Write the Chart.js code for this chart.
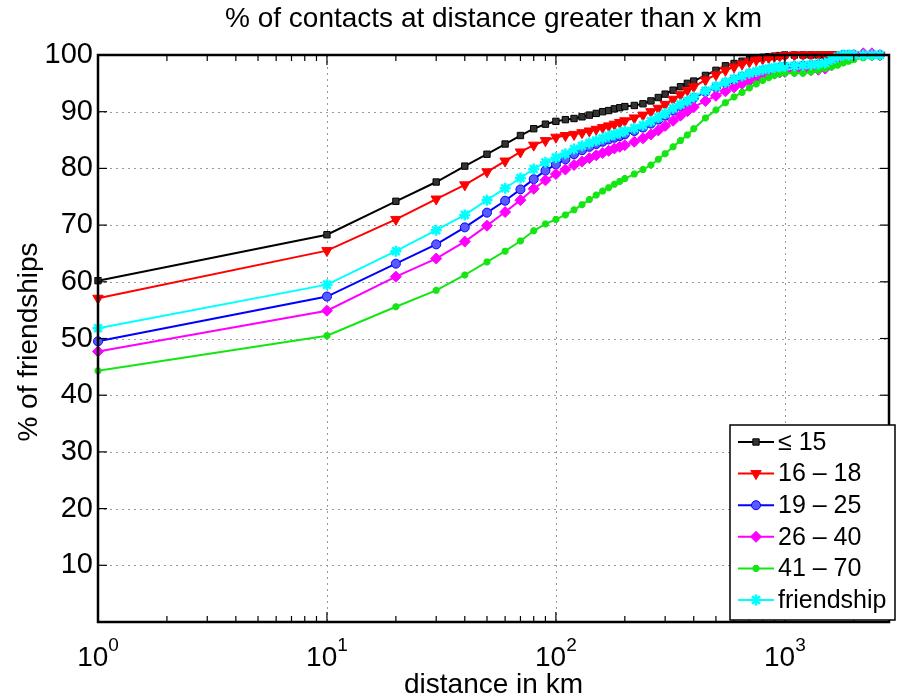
<!DOCTYPE html>
<html>
<head>
<meta charset="utf-8">
<script src="https://cdn.jsdelivr.net/npm/chart.js@4/dist/chart.umd.min.js"></script>
<style>
  html, body { margin: 0; padding: 0; background: #fff; }
  #wrap { width: 897px; height: 695px; }
</style>
</head>
<body>
<div id="wrap"><canvas id="myChart" width="897" height="695"></canvas></div>
<script>
// distance in km (shared by every series)
const distances = [1, 10, 20, 30, 40, 50, 60, 70, 80, 90,
  100, 110, 120, 130, 140, 150, 160, 170, 180, 190,
  200, 220, 240, 260, 280, 300, 325, 350, 375, 400,
  450, 500, 550, 600, 650, 700, 750, 800, 850, 900,
  950, 1000, 1100, 1200, 1300, 1400, 1500, 1600, 1700, 1800,
  1900, 2000, 2200, 2400, 2600];

// % of friendships at distance greater than x, per age group
const age15 = [60.2, 68.3, 74.2, 77.6, 80.4, 82.5, 84.3, 85.8, 87.0, 87.8,
  88.3, 88.6, 88.8, 89.1, 89.4, 89.7, 90.0, 90.2, 90.5, 90.7,
  90.9, 91.1, 91.4, 91.9, 92.5, 93.1, 93.8, 94.4, 95.0, 95.4,
  96.4, 97.3, 98.1, 98.5, 98.9, 99.2, 99.4, 99.6, 99.7, 99.8,
  99.9, 100, 100, 100, 100, 100, 100, 100, 100, 100,
  100, 100, 100, 100, 100];
const age16to18 = [57.1, 65.5, 71.0, 74.6, 77.1, 79.4, 81.3, 82.9, 84.1, 84.9,
  85.5, 85.8, 86.0, 86.3, 86.6, 86.9, 87.2, 87.5, 87.8, 88.1,
  88.4, 88.9, 89.4, 90.0, 90.6, 91.3, 92.2, 93.0, 93.8, 94.4,
  95.6, 96.5, 97.3, 97.9, 98.4, 98.8, 99.1, 99.3, 99.5, 99.7,
  99.8, 99.9, 100, 100, 100, 100, 100, 100, 100, 100,
  100, 100, 100, 100, 100];
const age19to25 = [49.5, 57.4, 63.2, 66.6, 69.6, 72.2, 74.3, 76.3, 78.1, 79.6,
  80.7, 81.6, 82.5, 83.2, 83.8, 84.3, 84.7, 85.1, 85.4, 85.7,
  86.0, 86.6, 87.2, 87.9, 88.6, 89.3, 90.2, 91.0, 91.7, 92.4,
  93.5, 94.3, 95.0, 95.6, 96.1, 96.6, 96.9, 97.2, 97.4, 97.6,
  97.8, 97.9, 98.0, 98.1, 98.2, 98.3, 98.5, 99.0, 99.6, 100,
  100, 100, 100, 100, 100];
const age26to40 = [47.7, 54.9, 60.9, 64.1, 67.1, 69.9, 72.3, 74.4, 76.4, 77.9,
  79.0, 79.8, 80.6, 81.2, 81.8, 82.3, 82.7, 83.1, 83.5, 83.8,
  84.1, 84.7, 85.3, 86.0, 86.7, 87.5, 88.4, 89.3, 90.1, 90.8,
  91.9, 92.8, 93.6, 94.3, 94.9, 95.4, 95.8, 96.1, 96.4, 96.7,
  96.9, 97.0, 97.1, 97.2, 97.3, 97.4, 97.6, 98.2, 98.9, 99.5,
  99.8, 100, 100.3, 100.3, 100];
const age41to70 = [44.3, 50.5, 55.6, 58.5, 61.2, 63.5, 65.4, 67.2, 69.0, 70.2,
  71.0, 71.8, 72.7, 73.6, 74.5, 75.3, 76.0, 76.6, 77.2, 77.7,
  78.2, 79.0, 79.8, 80.6, 81.6, 82.6, 83.8, 84.9, 85.9, 87.0,
  88.9, 90.3, 91.6, 92.6, 93.4, 94.2, 94.9, 95.5, 96.0, 96.4,
  96.7, 96.8, 96.8, 96.8, 97.0, 97.3, 97.6, 97.9, 98.2, 98.6,
  98.9, 99.2, 99.5, 99.7, 99.9];
const friendship = [51.8, 59.5, 65.4, 69.1, 71.8, 74.4, 76.5, 78.3, 79.9, 81.1,
  81.9, 82.6, 83.4, 84.0, 84.5, 84.9, 85.3, 85.7, 86.0, 86.3,
  86.6, 87.1, 87.6, 88.3, 89.0, 89.7, 90.6, 91.3, 91.9, 92.6,
  93.7, 94.5, 95.2, 95.8, 96.3, 96.8, 97.1, 97.4, 97.6, 97.8,
  97.9, 98.0, 98.1, 98.2, 98.3, 98.4, 98.6, 99.2, 99.7, 100,
  100, 100, 100, 100, 100];

const seriesLabels = ['≤ 15', '16 – 18', '19 – 25', '26 – 40', '41 – 70', 'friendship'];
const seriesValues = [age15, age16to18, age19to25, age26to40, age41to70, friendship];

const yTicks = [0, 10, 20, 30, 40, 50, 60, 70, 80, 90, 100];
const xDecades = [1, 10, 100, 1000];
const xTickExp = ['0', '1', '2', '3'];

const FONT = '"Liberation Sans", Arial, Helvetica, sans-serif';

const styles = [
  { color: '#000000', fill: '#333333', pointStyle: 'rect', radius: 4.5, rotation: 0 },
  { color: '#ff0000', fill: '#ff0000', pointStyle: 'triangle', radius: 6, rotation: 180 },
  { color: '#0000ff', fill: '#5a5aff', pointStyle: 'circle', radius: 4.5, rotation: 0 },
  { color: '#ff00ff', fill: '#ff00ff', pointStyle: 'rectRot', radius: 5.5, rotation: 0 },
  { color: '#14e614', fill: '#14e614', pointStyle: 'star', radius: 3.5, rotation: 0 },
  { color: '#00ffff', fill: '#00ffff', pointStyle: 'star', radius: 5.5, rotation: 0 }
];

const datasets = seriesValues.map((vals, i) => ({
  label: seriesLabels[i],
  data: distances.map((d, j) => ({ x: d, y: vals[j] })),
  borderColor: styles[i].color,
  backgroundColor: styles[i].fill,
  pointBorderColor: styles[i].color,
  pointBackgroundColor: styles[i].fill,
  pointStyle: styles[i].pointStyle,
  pointRadius: styles[i].radius,
  pointRotation: styles[i].rotation,
  pointBorderWidth: styles[i].pointStyle === 'star' ? 2.5 : 1,
  borderWidth: 2,
  tension: 0,
  clip: false,
  order: seriesValues.length - i
}));

function seg(ctx, x1, y1, x2, y2) {
  ctx.beginPath();
  ctx.moveTo(x1, y1);
  ctx.lineTo(x2, y2);
  ctx.stroke();
}

const matlabAxes = {
  id: 'matlabAxes',
  beforeDatasetsDraw(chart) {
    const { ctx, chartArea: a, scales: { x, y } } = chart;
    ctx.save();
    ctx.strokeStyle = '#9a9a9a';
    ctx.lineWidth = 1;
    ctx.setLineDash([2, 4]);
    yTicks.forEach(v => {
      if (v <= 0 || v >= 100) return;
      const py = Math.round(y.getPixelForValue(v)) + 0.5;
      seg(ctx, a.left, py, a.right, py);
    });
    xDecades.forEach(v => {
      if (v <= x.min || v >= x.max) return;
      const px = Math.round(x.getPixelForValue(v)) + 0.5;
      seg(ctx, px, a.top, px, a.bottom);
    });
    ctx.restore();
  },
  afterDatasetsDraw(chart) {
    const { ctx, chartArea: a, scales: { x, y } } = chart;
    ctx.save();
    ctx.setLineDash([]);
    ctx.strokeStyle = '#000';

    // minor / major ticks along x (inside, top and bottom)
    ctx.lineWidth = 1.2;
    xDecades.forEach(dec => {
      for (let m = 1; m <= 9; m++) {
        const v = dec * m;
        if (v < x.min || v > x.max) continue;
        const px = x.getPixelForValue(v);
        const len = m === 1 ? 10 : 6;
        seg(ctx, px, a.bottom, px, a.bottom - len);
        seg(ctx, px, a.top, px, a.top + len);
      }
    });
    yTicks.forEach(v => {
      const py = y.getPixelForValue(v);
      seg(ctx, a.left, py, a.left + 9, py);
      seg(ctx, a.right, py, a.right - 9, py);
    });

    // axes box
    ctx.lineWidth = 2.5;
    ctx.strokeRect(a.left, a.top, a.right - a.left, a.bottom - a.top);

    // x tick labels 10^k
    ctx.fillStyle = '#000';
    ctx.textBaseline = 'alphabetic';
    ctx.textAlign = 'left';
    xDecades.forEach((v, i) => {
      const px = x.getPixelForValue(v);
      ctx.font = '28px ' + FONT;
      const w1 = ctx.measureText('10').width;
      ctx.font = '19px ' + FONT;
      const w2 = ctx.measureText(xTickExp[i]).width;
      const sx = px - (w1 + w2) / 2;
      ctx.font = '28px ' + FONT;
      ctx.fillText('10', sx, 666);
      ctx.font = '19px ' + FONT;
      ctx.fillText(xTickExp[i], sx + w1, 651);
    });

    // titles
    ctx.textAlign = 'center';
    ctx.font = '28px ' + FONT;
    ctx.textBaseline = 'middle';
    ctx.fillText('% of contacts at distance greater than x km', (a.left + a.right) / 2, 19);
    ctx.textBaseline = 'alphabetic';
    ctx.fillText('distance in km', (a.left + a.right) / 2, 693);
    ctx.save();
    ctx.textBaseline = 'middle';
    ctx.translate(29, 342);
    ctx.rotate(-Math.PI / 2);
    ctx.fillText('% of friendships', 0, 0);
    ctx.restore();

    // legend box
    const lx = 730, ly = 425, lw = 165, lh = 195;
    ctx.fillStyle = '#fff';
    ctx.fillRect(lx, ly, lw, lh);
    ctx.lineWidth = 1.5;
    ctx.strokeStyle = '#000';
    ctx.strokeRect(lx, ly, lw, lh);
    ctx.font = '25px ' + FONT;
    ctx.textAlign = 'left';
    ctx.textBaseline = 'middle';
    chart.data.datasets.forEach((ds, i) => {
      const ry = 442 + i * 31.6;
      ctx.strokeStyle = ds.borderColor;
      ctx.lineWidth = 2;
      seg(ctx, lx + 8, ry, lx + 44, ry);
      ctx.fillStyle = ds.pointBackgroundColor;
      ctx.strokeStyle = ds.pointBorderColor;
      ctx.lineWidth = ds.pointBorderWidth;
      Chart.helpers.drawPoint(ctx, {
        pointStyle: ds.pointStyle, radius: ds.pointRadius,
        rotation: ds.pointRotation, borderWidth: ds.pointBorderWidth
      }, lx + 26, ry);
      ctx.fillStyle = '#000';
      ctx.fillText(ds.label, lx + 48, ry + 1);
    });
    ctx.restore();
  }
};

new Chart(document.getElementById('myChart').getContext('2d'), {
  type: 'line',
  data: { datasets: datasets },
  plugins: [matlabAxes],
  options: {
    responsive: false,
    animation: false,
    devicePixelRatio: 1,
    layout: { padding: { top: 55, right: 4, left: 0, bottom: 0 } },
    plugins: { legend: { display: false }, tooltip: { enabled: false }, title: { display: false } },
    scales: {
      x: {
        type: 'logarithmic',
        min: 1,
        max: 2850,
        grid: { display: false, drawTicks: false },
        border: { display: false },
        ticks: { display: false },
        afterFit(scale) { scale.height = 73; }
      },
      y: {
        type: 'linear',
        min: 0,
        max: 100,
        grid: { display: false, drawTicks: false },
        border: { display: false },
        ticks: {
          stepSize: 10,
          padding: 5,
          color: '#000',
          font: { family: FONT, size: 29 },
          callback: v => (v === 0 ? '' : v)
        },
        afterFit(scale) { scale.width = 98; }
      }
    }
  }
});
</script>
</body>
</html>
